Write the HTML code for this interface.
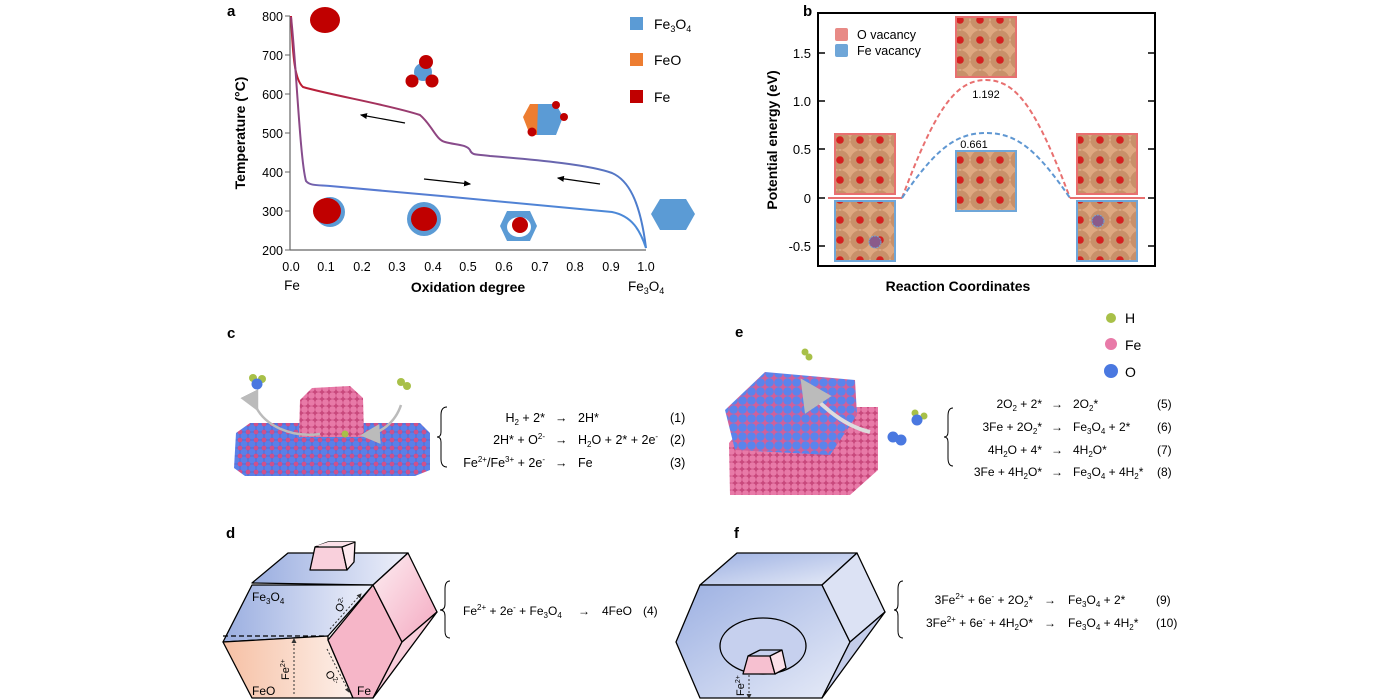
<!DOCTYPE html>
<html><head><meta charset="utf-8"><style>
html,body{margin:0;padding:0;background:#fff;}
svg{display:block;font-family:"Liberation Sans",Arial,sans-serif;}
</style></head><body>
<svg width="1400" height="700" viewBox="0 0 1400 700" xmlns="http://www.w3.org/2000/svg">
<defs>
<linearGradient id="up" x1="0" y1="0" x2="1" y2="0"><stop offset="0" stop-color="#c0182c"/><stop offset="0.45" stop-color="#8a4a8a"/><stop offset="1" stop-color="#4a7fd0"/></linearGradient>
<linearGradient id="lo" x1="0" y1="0" x2="1" y2="0"><stop offset="0" stop-color="#9a3a70"/><stop offset="0.1" stop-color="#5a78d0"/><stop offset="1" stop-color="#4a8ad8"/></linearGradient>
<pattern id="atom" width="20" height="20" patternUnits="userSpaceOnUse">
<rect width="20" height="20" fill="#fff"/>
<circle cx="10" cy="10" r="9.6" fill="#d8a078"/>
<circle cx="10" cy="10" r="7" fill="#dea881"/>
<circle cx="0" cy="0" r="9.6" fill="#c8906a"/><circle cx="20" cy="0" r="9.6" fill="#c8906a"/><circle cx="0" cy="20" r="9.6" fill="#c8906a"/><circle cx="20" cy="20" r="9.6" fill="#c8906a"/>
<circle cx="0" cy="0" r="3.8" fill="#d42020"/><circle cx="20" cy="0" r="3.8" fill="#d42020"/><circle cx="0" cy="20" r="3.8" fill="#d42020"/><circle cx="20" cy="20" r="3.8" fill="#d42020"/>
</pattern>
<pattern id="slabc" width="8" height="8" patternUnits="userSpaceOnUse">
<rect width="8" height="8" fill="#4a6fd8"/><circle cx="4" cy="4" r="3.6" fill="#5a80e8"/><circle cx="0" cy="0" r="2.4" fill="#d0508a"/><circle cx="8" cy="8" r="2.4" fill="#d0508a"/><circle cx="8" cy="0" r="2.4" fill="#d0508a"/><circle cx="0" cy="8" r="2.4" fill="#d0508a"/>
</pattern>
<pattern id="pinkp" width="7" height="7" patternUnits="userSpaceOnUse">
<rect width="7" height="7" fill="#c8487c"/><circle cx="3.5" cy="3.5" r="3.3" fill="#e87aa8"/>
</pattern>
<pattern id="bluep" width="9" height="9" patternUnits="userSpaceOnUse">
<rect width="9" height="9" fill="#d0609a"/><circle cx="4.5" cy="4.5" r="4.3" fill="#5a84ec"/>
</pattern>
<linearGradient id="blueface" x1="0" y1="0" x2="1" y2="0"><stop offset="0" stop-color="#9aaee0"/><stop offset="1" stop-color="#eef0fa"/></linearGradient>
<linearGradient id="orangeface" x1="0" y1="0" x2="1" y2="0"><stop offset="0" stop-color="#f6c0a4"/><stop offset="1" stop-color="#fdf0ea"/></linearGradient>
<linearGradient id="pinkface" x1="0" y1="0" x2="1" y2="1"><stop offset="0" stop-color="#fdeef2"/><stop offset="1" stop-color="#f4a8c0"/></linearGradient>
<linearGradient id="fface" x1="0" y1="0" x2="1" y2="1"><stop offset="0" stop-color="#9cb0e2"/><stop offset="1" stop-color="#e8ecf8"/></linearGradient>
<marker id="ah" markerWidth="6" markerHeight="6" refX="5" refY="3" orient="auto"><path d="M0,0.5 L6,3 L0,5.5z" fill="#000"/></marker>
<marker id="ahg" markerWidth="8" markerHeight="8" refX="6" refY="4" orient="auto"><path d="M0,0 L8,4 L0,8z" fill="#bbb"/></marker>
<marker id="ahs" markerWidth="5" markerHeight="5" refX="4" refY="2.5" orient="auto"><path d="M0,0 L5,2.5 L0,5z" fill="#333"/></marker>
</defs>

<!-- ===== Panel a ===== -->
<text x="227" y="16" font-size="15" font-weight="bold">a</text>
<g stroke="#666" stroke-width="1.2" fill="none">
<line x1="290" y1="16" x2="290" y2="250"/><line x1="290" y1="250" x2="646" y2="250"/>
</g>
<g stroke="#666" stroke-width="1">
<line x1="285" y1="16" x2="290" y2="16"/><line x1="285" y1="55" x2="290" y2="55"/><line x1="285" y1="94" x2="290" y2="94"/><line x1="285" y1="133" x2="290" y2="133"/><line x1="285" y1="172" x2="290" y2="172"/><line x1="285" y1="211" x2="290" y2="211"/><line x1="285" y1="250" x2="290" y2="250"/>
</g>
<g font-size="12.5" text-anchor="end">
<text x="283" y="21">800</text><text x="283" y="60">700</text><text x="283" y="99">600</text><text x="283" y="138">500</text><text x="283" y="177">400</text><text x="283" y="216">300</text><text x="283" y="255">200</text>
</g>
<g font-size="12.5" text-anchor="middle">
<text x="291" y="271">0.0</text><text x="326" y="271">0.1</text><text x="362" y="271">0.2</text><text x="397" y="271">0.3</text><text x="433" y="271">0.4</text><text x="468" y="271">0.5</text><text x="504" y="271">0.6</text><text x="540" y="271">0.7</text><text x="575" y="271">0.8</text><text x="611" y="271">0.9</text><text x="646" y="271">1.0</text>
</g>
<text x="292" y="290" font-size="13.5" text-anchor="middle">Fe</text>
<text x="468" y="292" font-size="14" font-weight="bold" text-anchor="middle">Oxidation degree</text>
<text x="628" y="291" font-size="13.5">Fe<tspan font-size="9" dy="3">3</tspan><tspan dy="-3">O</tspan><tspan font-size="9" dy="3">4</tspan></text>
<text transform="translate(245,133) rotate(-90)" font-size="14" font-weight="bold" text-anchor="middle">Temperature (°C)</text>
<path d="M291,16 C293,60 295,80 303,87 C330,95 390,105 420,115 C432,125 436,140 445,142 C455,145 466,144 470,150 C472,156 478,154 490,156 C540,160 590,165 612,173 C628,180 640,200 646,248" fill="none" stroke="url(#up)" stroke-width="2"/>
<path d="M291,17 C296,60 300,160 306,181 C310,186 318,185 330,186 C420,194 540,205 612,212 C632,216 640,230 646,248" fill="none" stroke="url(#lo)" stroke-width="2"/>
<g stroke="#000" stroke-width="1.2"><line x1="405" y1="123" x2="361" y2="115" marker-end="url(#ah)"/><line x1="424" y1="179" x2="470" y2="184" marker-end="url(#ah)"/><line x1="600" y1="184" x2="558" y2="178" marker-end="url(#ah)"/></g>
<ellipse cx="325" cy="20" rx="15" ry="13" fill="#c00000"/>
<circle cx="423" cy="72" r="9" fill="#5b9bd5"/><circle cx="426" cy="62" r="7" fill="#c00000"/><circle cx="412" cy="81" r="6.5" fill="#c00000"/><circle cx="432" cy="81" r="6.5" fill="#c00000"/>
<polygon points="523,117 530,104 538,104 538,135 530,135" fill="#ed7d31"/>
<polygon points="538,104 556,104 563,117 556,135 537,135" fill="#5b9bd5"/>
<circle cx="556" cy="105" r="4" fill="#c00000"/><circle cx="564" cy="117" r="4" fill="#c00000"/><circle cx="532" cy="132" r="4.5" fill="#c00000"/>
<circle cx="330" cy="212" r="15" fill="#5b9bd5"/><ellipse cx="327" cy="211" rx="14" ry="13" fill="#c00000"/>
<circle cx="424" cy="219" r="17" fill="#5b9bd5"/><ellipse cx="424" cy="219" rx="13" ry="12" fill="#c00000"/>
<polygon points="500,226 507,211 530,211 537,226 530,241 507,241" fill="#5b9bd5"/><ellipse cx="519" cy="227" rx="12" ry="10" fill="#fff"/><circle cx="520" cy="225" r="8" fill="#c00000"/>
<polygon points="651,214 660,199 686,199 695,214 686,230 660,230" fill="#5b9bd5"/>
<rect x="630" y="17" width="13" height="13" fill="#5b9bd5"/><rect x="630" y="53" width="13" height="13" fill="#ed7d31"/><rect x="630" y="90" width="13" height="13" fill="#c00000"/>
<text x="654" y="29" font-size="14">Fe<tspan font-size="9" dy="3">3</tspan><tspan dy="-3">O</tspan><tspan font-size="9" dy="3">4</tspan></text>
<text x="654" y="65" font-size="14">FeO</text><text x="654" y="102" font-size="14">Fe</text>

<!-- ===== Panel b ===== -->
<text x="803" y="16" font-size="15" font-weight="bold">b</text>
<rect x="818" y="13" width="337" height="253" fill="none" stroke="#000" stroke-width="2"/>
<g stroke="#000" stroke-width="1.5">
<line x1="818" y1="53" x2="825" y2="53"/><line x1="818" y1="101" x2="825" y2="101"/><line x1="818" y1="149" x2="825" y2="149"/><line x1="818" y1="198" x2="825" y2="198"/><line x1="818" y1="246" x2="825" y2="246"/>
<line x1="1148" y1="53" x2="1155" y2="53"/><line x1="1148" y1="101" x2="1155" y2="101"/><line x1="1148" y1="149" x2="1155" y2="149"/><line x1="1148" y1="198" x2="1155" y2="198"/><line x1="1148" y1="246" x2="1155" y2="246"/>
</g>
<g font-size="13" text-anchor="end"><text x="811" y="58">1.5</text><text x="811" y="106">1.0</text><text x="811" y="154">0.5</text><text x="811" y="203">0</text><text x="811" y="251">-0.5</text></g>
<text transform="translate(777,140) rotate(-90)" font-size="14" font-weight="bold" text-anchor="middle">Potential energy (eV)</text>
<text x="958" y="291" font-size="14" font-weight="bold" text-anchor="middle">Reaction Coordinates</text>
<rect x="835" y="28" width="13" height="13" fill="#e88a86" rx="2"/><rect x="835" y="44" width="13" height="13" fill="#6fa6d8" rx="2"/>
<text x="857" y="39" font-size="12.5">O vacancy</text><text x="857" y="55" font-size="12.5">Fe vacancy</text>
<line x1="828" y1="198" x2="902" y2="198" stroke="#e87070" stroke-width="2"/><line x1="1070" y1="198" x2="1145" y2="198" stroke="#e87070" stroke-width="2"/>
<path d="M902,198 C935,110 955,80 986,80 C1017,80 1037,110 1070,198" fill="none" stroke="#e87070" stroke-width="2" stroke-dasharray="5,3"/>
<path d="M902,198 C935,150 955,133 986,133 C1017,133 1037,150 1070,198" fill="none" stroke="#5f97d2" stroke-width="2" stroke-dasharray="5,3"/>
<text x="986" y="98" font-size="11" text-anchor="middle">1.192</text><text x="974" y="148" font-size="11" text-anchor="middle">0.661</text>
<g stroke-width="2" fill="url(#atom)">
<rect x="956" y="17" width="60" height="60" stroke="#e87070"/>
<rect x="835" y="134" width="60" height="60" stroke="#e87070"/>
<rect x="835" y="201" width="60" height="60" stroke="#6fa6d8"/>
<rect x="956" y="151" width="60" height="60" stroke="#6fa6d8"/>
<rect x="1077" y="134" width="60" height="60" stroke="#e87070"/>
<rect x="1077" y="201" width="60" height="60" stroke="#6fa6d8"/>
</g>
<circle cx="875" cy="242" r="6" fill="#8a5a8a" stroke="#6fa6d8" stroke-dasharray="2,1"/>
<circle cx="1098" cy="221" r="6" fill="#8a5a8a" stroke="#6fa6d8" stroke-dasharray="2,1"/>

<!-- ===== Panel c ===== -->
<text x="227" y="338" font-size="15" font-weight="bold">c</text>
<polygon points="236,433 250,423 420,423 430,433 430,470 415,476 245,476 234,468" fill="url(#slabc)"/>
<path d="M299,437 L300,400 L312,388 L350,386 L363,398 L364,437 Z" fill="url(#pinkp)"/>
<path d="M256,407 C265,425 290,438 320,434" fill="none" stroke="#bbb" stroke-width="2.5" marker-start="url(#ahg)"/>
<path d="M401,405 C395,423 380,434 365,435" fill="none" stroke="#bbb" stroke-width="2.5" marker-end="url(#ahg)"/>
<circle cx="345" cy="434" r="3.5" fill="#a8c048"/>
<circle cx="253" cy="378" r="4" fill="#a8c048"/><circle cx="262" cy="379" r="4" fill="#a8c048"/><circle cx="257" cy="384" r="5.5" fill="#4a78e0"/>
<circle cx="401" cy="382" r="4" fill="#a8c048"/><circle cx="407" cy="386" r="4" fill="#a8c048"/>
<path d="M447,407 Q441,407 441,415 L441,432 Q441,437 437,437 Q441,437 441,442 L441,459 Q441,467 447,467" fill="none" stroke="#000" stroke-width="1"/>
<g font-size="12.5">
<text x="545" y="422" text-anchor="end">H<tspan font-size="8" dy="3">2</tspan><tspan dy="-3"> + 2*</tspan></text>
<text x="545" y="444" text-anchor="end">2H* + O<tspan font-size="8" dy="-5">2-</tspan></text>
<text x="545" y="467" text-anchor="end">Fe<tspan font-size="8" dy="-5">2+</tspan><tspan dy="5">/Fe</tspan><tspan font-size="8" dy="-5">3+</tspan><tspan dy="5"> + 2e</tspan><tspan font-size="8" dy="-5">-</tspan></text>
<text x="555" y="422">→</text><text x="555" y="444">→</text><text x="555" y="467">→</text>
<text x="578" y="422">2H*</text>
<text x="578" y="444">H<tspan font-size="8" dy="3">2</tspan><tspan dy="-3">O + 2* + 2e</tspan><tspan font-size="8" dy="-5">-</tspan></text>
<text x="578" y="467">Fe</text>
<text x="670" y="422">(1)</text><text x="670" y="444">(2)</text><text x="670" y="467">(3)</text>
</g>

<!-- ===== Panel e ===== -->
<text x="735" y="337" font-size="15" font-weight="bold">e</text>
<circle cx="1111" cy="318" r="5" fill="#a8c048"/><circle cx="1111" cy="344" r="6" fill="#e87aa8"/><circle cx="1111" cy="371" r="7" fill="#4a78e0"/>
<text x="1125" y="323" font-size="14">H</text><text x="1125" y="350" font-size="14">Fe</text><text x="1125" y="377" font-size="14">O</text>
<polygon points="729,443 760,407 878,407 878,470 850,495 730,495" fill="url(#pinkp)"/>
<polygon points="725,410 765,372 855,380 857,415 830,455 735,450" fill="url(#bluep)"/>
<path d="M870,432 C840,425 815,400 805,385" fill="none" stroke="#ddd" stroke-width="4" marker-end="url(#ahg)"/>
<circle cx="805" cy="352" r="3.5" fill="#a8c048"/><circle cx="809" cy="357" r="3.5" fill="#a8c048"/>
<circle cx="915" cy="413" r="3.5" fill="#a8c048"/><circle cx="924" cy="416" r="3.5" fill="#a8c048"/><circle cx="917" cy="420" r="5.5" fill="#4a78e0"/>
<circle cx="893" cy="437" r="5.5" fill="#4a78e0"/><circle cx="901" cy="440" r="5.5" fill="#4a78e0"/>
<path d="M953,408 Q948,408 948,416 L948,432 Q948,437 944,437 Q948,437 948,442 L948,458 Q948,466 953,466" fill="none" stroke="#000" stroke-width="1"/>
<g font-size="12">
<text x="1042" y="408" text-anchor="end">2O<tspan font-size="8" dy="3">2</tspan><tspan dy="-3"> + 2*</tspan></text>
<text x="1042" y="431" text-anchor="end">3Fe + 2O<tspan font-size="8" dy="3">2</tspan><tspan dy="-3">*</tspan></text>
<text x="1042" y="454" text-anchor="end">4H<tspan font-size="8" dy="3">2</tspan><tspan dy="-3">O + 4*</tspan></text>
<text x="1042" y="476" text-anchor="end">3Fe + 4H<tspan font-size="8" dy="3">2</tspan><tspan dy="-3">O*</tspan></text>
<text x="1051" y="408">→</text><text x="1051" y="431">→</text><text x="1051" y="454">→</text><text x="1051" y="476">→</text>
<text x="1073" y="408">2O<tspan font-size="8" dy="3">2</tspan><tspan dy="-3">*</tspan></text>
<text x="1073" y="431">Fe<tspan font-size="8" dy="3">3</tspan><tspan dy="-3">O</tspan><tspan font-size="8" dy="3">4</tspan><tspan dy="-3"> + 2*</tspan></text>
<text x="1073" y="454">4H<tspan font-size="8" dy="3">2</tspan><tspan dy="-3">O*</tspan></text>
<text x="1073" y="476">Fe<tspan font-size="8" dy="3">3</tspan><tspan dy="-3">O</tspan><tspan font-size="8" dy="3">4</tspan><tspan dy="-3"> + 4H</tspan><tspan font-size="8" dy="3">2</tspan><tspan dy="-3">*</tspan></text>
<text x="1157" y="408">(5)</text><text x="1157" y="431">(6)</text><text x="1157" y="454">(7)</text><text x="1157" y="476">(8)</text>
</g>

<!-- ===== Panel d ===== -->
<text x="226" y="538" font-size="15" font-weight="bold">d</text>
<g stroke="#000" stroke-width="1.3" stroke-linejoin="round">
<polygon points="252,583 288,553 408,553 373,585" fill="url(#blueface)"/>
<polygon points="223,642 252,585 373,585 328,636" fill="url(#blueface)"/>
<polygon points="223,642 328,636 328,640 353,698 252,698" fill="url(#orangeface)"/>
<polygon points="328,640 373,585 402,642 373,698 353,698" fill="#f6b6c8"/>
<polygon points="373,585 408,553 437,612 402,642" fill="url(#pinkface)"/>
<polygon points="402,642 437,612 373,698" fill="url(#pinkface)"/>
<polygon points="310,570 315,547 342,547 347,570" fill="#f9d0dc"/>
<polygon points="342,547 355,542 354,562 347,570" fill="#fde8ee"/>
<line x1="315" y1="547" x2="328" y2="542"/><line x1="328" y1="542" x2="355" y2="542"/>
</g>
<polygon points="316,546 328,542 354,542 342,546" fill="#fbe0e8"/>
<line x1="223" y1="636" x2="328" y2="636" stroke="#000" stroke-width="1.3" stroke-dasharray="5,3"/>
<line x1="294" y1="694" x2="294" y2="639" stroke="#333" stroke-width="1" stroke-dasharray="2,2" marker-end="url(#ahs)"/>
<line x1="330" y1="629" x2="361" y2="594" stroke="#333" stroke-width="1" stroke-dasharray="2,2" marker-end="url(#ahs)"/>
<line x1="327" y1="649" x2="349" y2="692" stroke="#333" stroke-width="1" stroke-dasharray="2,2" marker-end="url(#ahs)"/>
<text x="252" y="601" font-size="12">Fe<tspan font-size="8" dy="3">3</tspan><tspan dy="-3">O</tspan><tspan font-size="8" dy="3">4</tspan></text>
<text transform="translate(341,613) rotate(-62)" font-size="11">O<tspan font-size="7" dy="-4">2-</tspan></text>
<text transform="translate(289,680) rotate(-90)" font-size="11">Fe<tspan font-size="7" dy="-4">2+</tspan></text>
<text transform="translate(325,673) rotate(62)" font-size="11">O<tspan font-size="7" dy="-4">2-</tspan></text>
<text x="252" y="695" font-size="12">FeO</text><text x="357" y="695" font-size="12">Fe</text>
<path d="M450,581 Q445,581 445,589 L445,604 Q445,610 440,610 Q445,610 445,616 L445,631 Q445,638 450,638" fill="none" stroke="#000" stroke-width="1"/>
<text x="463" y="615" font-size="12">Fe<tspan font-size="8" dy="-5">2+</tspan><tspan dy="5"> + 2e</tspan><tspan font-size="8" dy="-5">-</tspan><tspan dy="5"> + Fe</tspan><tspan font-size="8" dy="3">3</tspan><tspan dy="-3">O</tspan><tspan font-size="8" dy="3">4</tspan></text>
<text x="578" y="615" font-size="12">→</text><text x="602" y="615" font-size="12">4FeO</text><text x="643" y="615" font-size="12">(4)</text>

<!-- ===== Panel f ===== -->
<text x="734" y="538" font-size="15" font-weight="bold">f</text>
<g stroke="#000" stroke-width="1.3" stroke-linejoin="round">
<polygon points="700,585 737,553 857,553 822,585" fill="url(#fface)"/>
<polygon points="676,642 700,585 822,585 850,642 822,698 700,698" fill="url(#fface)"/>
<polygon points="822,585 857,553 885,612 850,642" fill="#dce2f4"/>
<polygon points="850,642 885,612 822,698" fill="#c4cdea"/>
<ellipse cx="763" cy="646" rx="43" ry="28" fill="#c6d0ee"/>
<polygon points="743,674 748,656 770,656 775,674" fill="#f6c0d0"/>
<polygon points="770,656 782,650 786,668 775,674" fill="#fbe0e8"/>
<line x1="748" y1="656" x2="760" y2="650"/><line x1="760" y1="650" x2="782" y2="650"/>
</g>
<line x1="749" y1="675" x2="749" y2="698" stroke="#333" stroke-width="1" stroke-dasharray="2,2" marker-end="url(#ahs)"/>
<text transform="translate(744,696) rotate(-90)" font-size="11">Fe<tspan font-size="7" dy="-4">2+</tspan></text>
<path d="M903,581 Q898,581 898,589 L898,604 Q898,610 894,610 Q898,610 898,616 L898,631 Q898,638 903,638" fill="none" stroke="#000" stroke-width="1"/>
<g font-size="12">
<text x="1033" y="604" text-anchor="end">3Fe<tspan font-size="8" dy="-5">2+</tspan><tspan dy="5"> + 6e</tspan><tspan font-size="8" dy="-5">-</tspan><tspan dy="5"> + 2O</tspan><tspan font-size="8" dy="3">2</tspan><tspan dy="-3">*</tspan></text>
<text x="1033" y="627" text-anchor="end">3Fe<tspan font-size="8" dy="-5">2+</tspan><tspan dy="5"> + 6e</tspan><tspan font-size="8" dy="-5">-</tspan><tspan dy="5"> + 4H</tspan><tspan font-size="8" dy="3">2</tspan><tspan dy="-3">O*</tspan></text>
<text x="1044" y="604">→</text><text x="1044" y="627">→</text>
<text x="1068" y="604">Fe<tspan font-size="8" dy="3">3</tspan><tspan dy="-3">O</tspan><tspan font-size="8" dy="3">4</tspan><tspan dy="-3"> + 2*</tspan></text>
<text x="1068" y="627">Fe<tspan font-size="8" dy="3">3</tspan><tspan dy="-3">O</tspan><tspan font-size="8" dy="3">4</tspan><tspan dy="-3"> + 4H</tspan><tspan font-size="8" dy="3">2</tspan><tspan dy="-3">*</tspan></text>
<text x="1156" y="604">(9)</text><text x="1156" y="627">(10)</text>
</g>
</svg>
</body></html>
